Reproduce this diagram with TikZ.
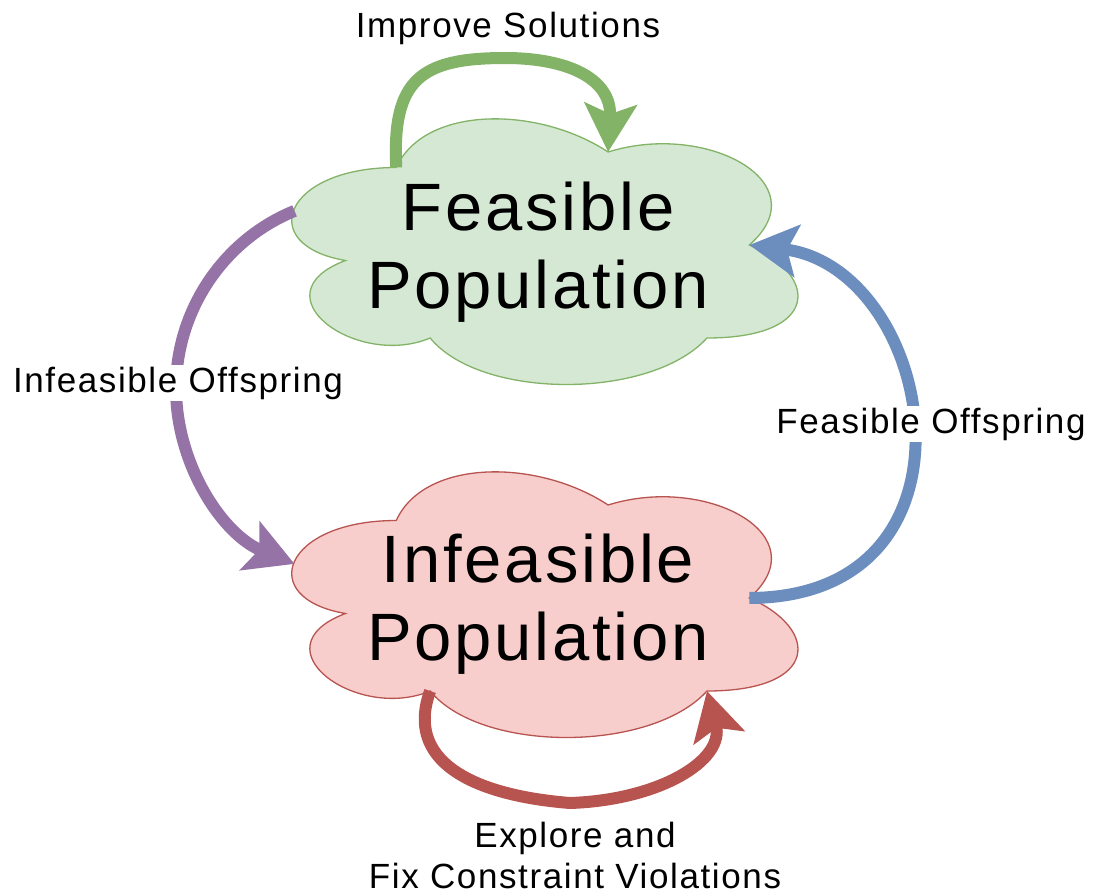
\documentclass[tikz,border=0pt]{standalone}
\usepackage{fontspec}
\setmainfont{Liberation Sans}
\newfontfamily\bigsans[LetterSpace=4.2]{Liberation Sans}
\newfontfamily\labelsans[LetterSpace=4.6]{Liberation Sans}
\usetikzlibrary{arrows.meta}

\definecolor{feasFill}{HTML}{D5E8D4}
\definecolor{feasLine}{HTML}{82B366}
\definecolor{infFill}{HTML}{F8CECC}
\definecolor{infLine}{HTML}{B85450}
\definecolor{blueLine}{HTML}{6C8EBF}
\definecolor{purpleLine}{HTML}{9673A6}

\tikzset{
  cloudtext/.style={align=center, font=\bigsans\fontsize{67}{78}\selectfont, inner sep=0pt},
  flowlabel/.style={font=\labelsans\fontsize{35}{41}\selectfont, inner sep=2pt, align=center},
  flow/.style={line width=12pt, -{Stealth[length=48pt,width=52pt,inset=10pt]}},
  feascloud/.style={draw=feasLine, fill=feasFill, line width=1.3pt},
  infcloud/.style={draw=infLine, fill=infFill, line width=1.3pt},
}

% cloud outline in a unit box, with named anchor points on its rim
\newcommand\drawcloud[6]{%
  \begin{scope}[shift={(#2,#3)}, xscale=#4, yscale=#5]
    \draw[#6] (0.25,0.25) .. controls (0.05,0.25) and (0,0.5) .. (0.16,0.55)
      .. controls (0,0.66) and (0.18,0.9) .. (0.31,0.8)
      .. controls (0.4,1) and (0.7,1) .. (0.8,0.8)
      .. controls (1,0.8) and (1,0.6) .. (0.875,0.5)
      .. controls (1,0.3) and (0.8,0.1) .. (0.625,0.2)
      .. controls (0.5,0.05) and (0.3,0.05) .. (0.25,0.25) -- cycle;
    \coordinate (#1-nw) at (0.25,0.25);
    \coordinate (#1-n)  at (0.625,0.2);
    \coordinate (#1-w)  at (0.07,0.39);
    \coordinate (#1-e)  at (0.875,0.5);
    \coordinate (#1-sw) at (0.31,0.8);
    \coordinate (#1-se) at (0.8,0.8);
  \end{scope}}

\begin{document}
\begin{tikzpicture}[x=1pt, y=-1pt]
  \useasboundingbox (0,0) rectangle (1096,894);

  % the two populations (node base = baseline of the last line)
  \drawcloud{fc}{255}{90}{565}{310}{feascloud}
  \drawcloud{ic}{255}{443}{565}{310}{infcloud}
  \node[cloudtext, anchor=base] (feas) at (538,308) {Feasible\\Population};
  \node[cloudtext, anchor=base] (infeas) at (538,660) {Infeasible\\Population};

  % transitions
  \draw[flow, feasLine] (fc-nw) .. controls (392,80) and (420,58) .. (505,58)
    .. controls (570,58) and (612,80) .. (fc-n);
  \draw[flow, purpleLine] (fc-w) .. controls (223,240) and (176,311) .. (176,388)
    .. controls (176,465) and (223,535) .. (ic-w);
  \draw[flow, blueLine] (ic-e) .. controls (995,597) and (935,268) .. (fc-e);
  \draw[flow, infLine] (ic-sw) .. controls (405,760) and (470,795) .. (570,803)
    .. controls (660,800) and (725,760) .. (ic-se);

  % transition labels
  \node[flowlabel, anchor=base] (improve) at (508,37) {Improve Solutions};
  \node[flowlabel, anchor=base, fill=white] (infoff) at (178,392) {Infeasible Offspring};
  \node[flowlabel, anchor=base, fill=white] (feasoff) at (931,433) {Feasible Offspring};
  \node[flowlabel, anchor=base] (explore) at (575,888) {Explore and\\Fix Constraint Violations};
\end{tikzpicture}
\end{document}
